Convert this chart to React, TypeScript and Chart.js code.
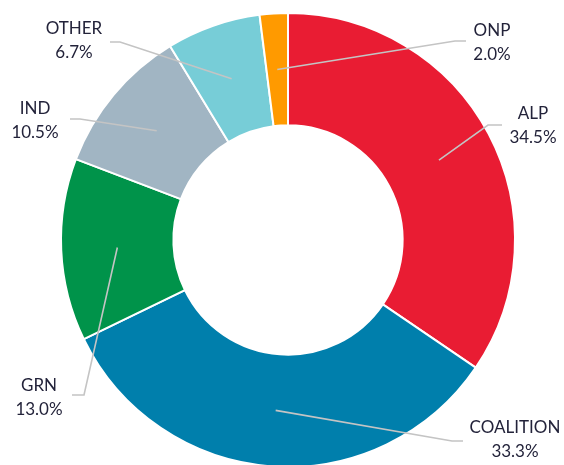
import React, { useEffect, useRef } from "react";
import { Chart, registerables } from "chart.js";

Chart.register(...registerables);

const categories = ["ALP", "COALITION", "GRN", "IND", "OTHER", "ONP"];
const shares = [34.5, 33.3, 13.0, 10.5, 6.7, 2.0];
const colours = ["#E91C33", "#007FAC", "#00934A", "#A1B5C3", "#77CDD7", "#FF9A00"];

// label layout: text centre, end of leader line next to text, elbow of leader
const labelLayout = [
  { tx: 533, ty: 126, ex: 502, ey: 125, bx: 488, by: 125 },
  { tx: 515, ty: 440, ex: 463, ey: 441, bx: 452, by: 441 },
  { tx: 39, ty: 398, ex: 72, ey: 395, bx: 84, by: 395 },
  { tx: 35, ty: 121, ex: 70, ey: 119, bx: 80, by: 119 },
  { tx: 74, ty: 41, ex: 110, ey: 42, bx: 120, by: 42 },
  { tx: 492, ty: 43, ex: 466, ey: 41, bx: 455, by: 41 },
];

const leaderPlugin = {
  id: "leaders",
  afterDatasetsDraw(chart: any) {
    const ctx = chart.ctx;
    const meta = chart.getDatasetMeta(0);
    ctx.save();
    meta.data.forEach((arc: any, i: number) => {
      const p = arc.tooltipPosition();
      const L = labelLayout[i];
      ctx.beginPath();
      ctx.strokeStyle = "#c4c4c4";
      ctx.lineWidth = 1.6;
      ctx.moveTo(p.x, p.y);
      ctx.lineTo(L.bx, L.by);
      ctx.lineTo(L.ex, L.ey);
      ctx.stroke();
    });
    ctx.font = "17px Lato";
    ctx.fillStyle = "#23233a";
    ctx.textAlign = "center";
    ctx.textBaseline = "middle";
    meta.data.forEach((arc: any, i: number) => {
      const L = labelLayout[i];
      ctx.fillText(categories[i], L.tx, L.ty - 12);
      ctx.fillText(shares[i].toFixed(1) + "%", L.tx, L.ty + 12);
    });
    ctx.restore();
  },
};

export default function App() {
  const ref = useRef<HTMLCanvasElement>(null);
  useEffect(() => {
    if (!ref.current) return;
    const chart = new Chart(ref.current, {
      type: "doughnut",
      data: {
        labels: categories,
        datasets: [
          {
            data: shares,
            backgroundColor: colours,
            borderColor: "#ffffff",
            borderWidth: 2,
          },
        ],
      },
      options: {
        animation: false,
        responsive: false,
        cutout: "50.5%",
        layout: { padding: { left: 60, right: 48, top: 12, bottom: 12 } },
        plugins: {
          legend: { display: false },
          tooltip: { enabled: false },
        },
      },
      plugins: [leaderPlugin],
    });
    return () => chart.destroy();
  }, []);
  return (
    <div style={{ position: "fixed", left: 0, top: 0, width: 564, height: 480, background: "#fff" }}>
      <canvas ref={ref} width={564} height={480} style={{ width: 564, height: 480 }} />
    </div>
  );
}
